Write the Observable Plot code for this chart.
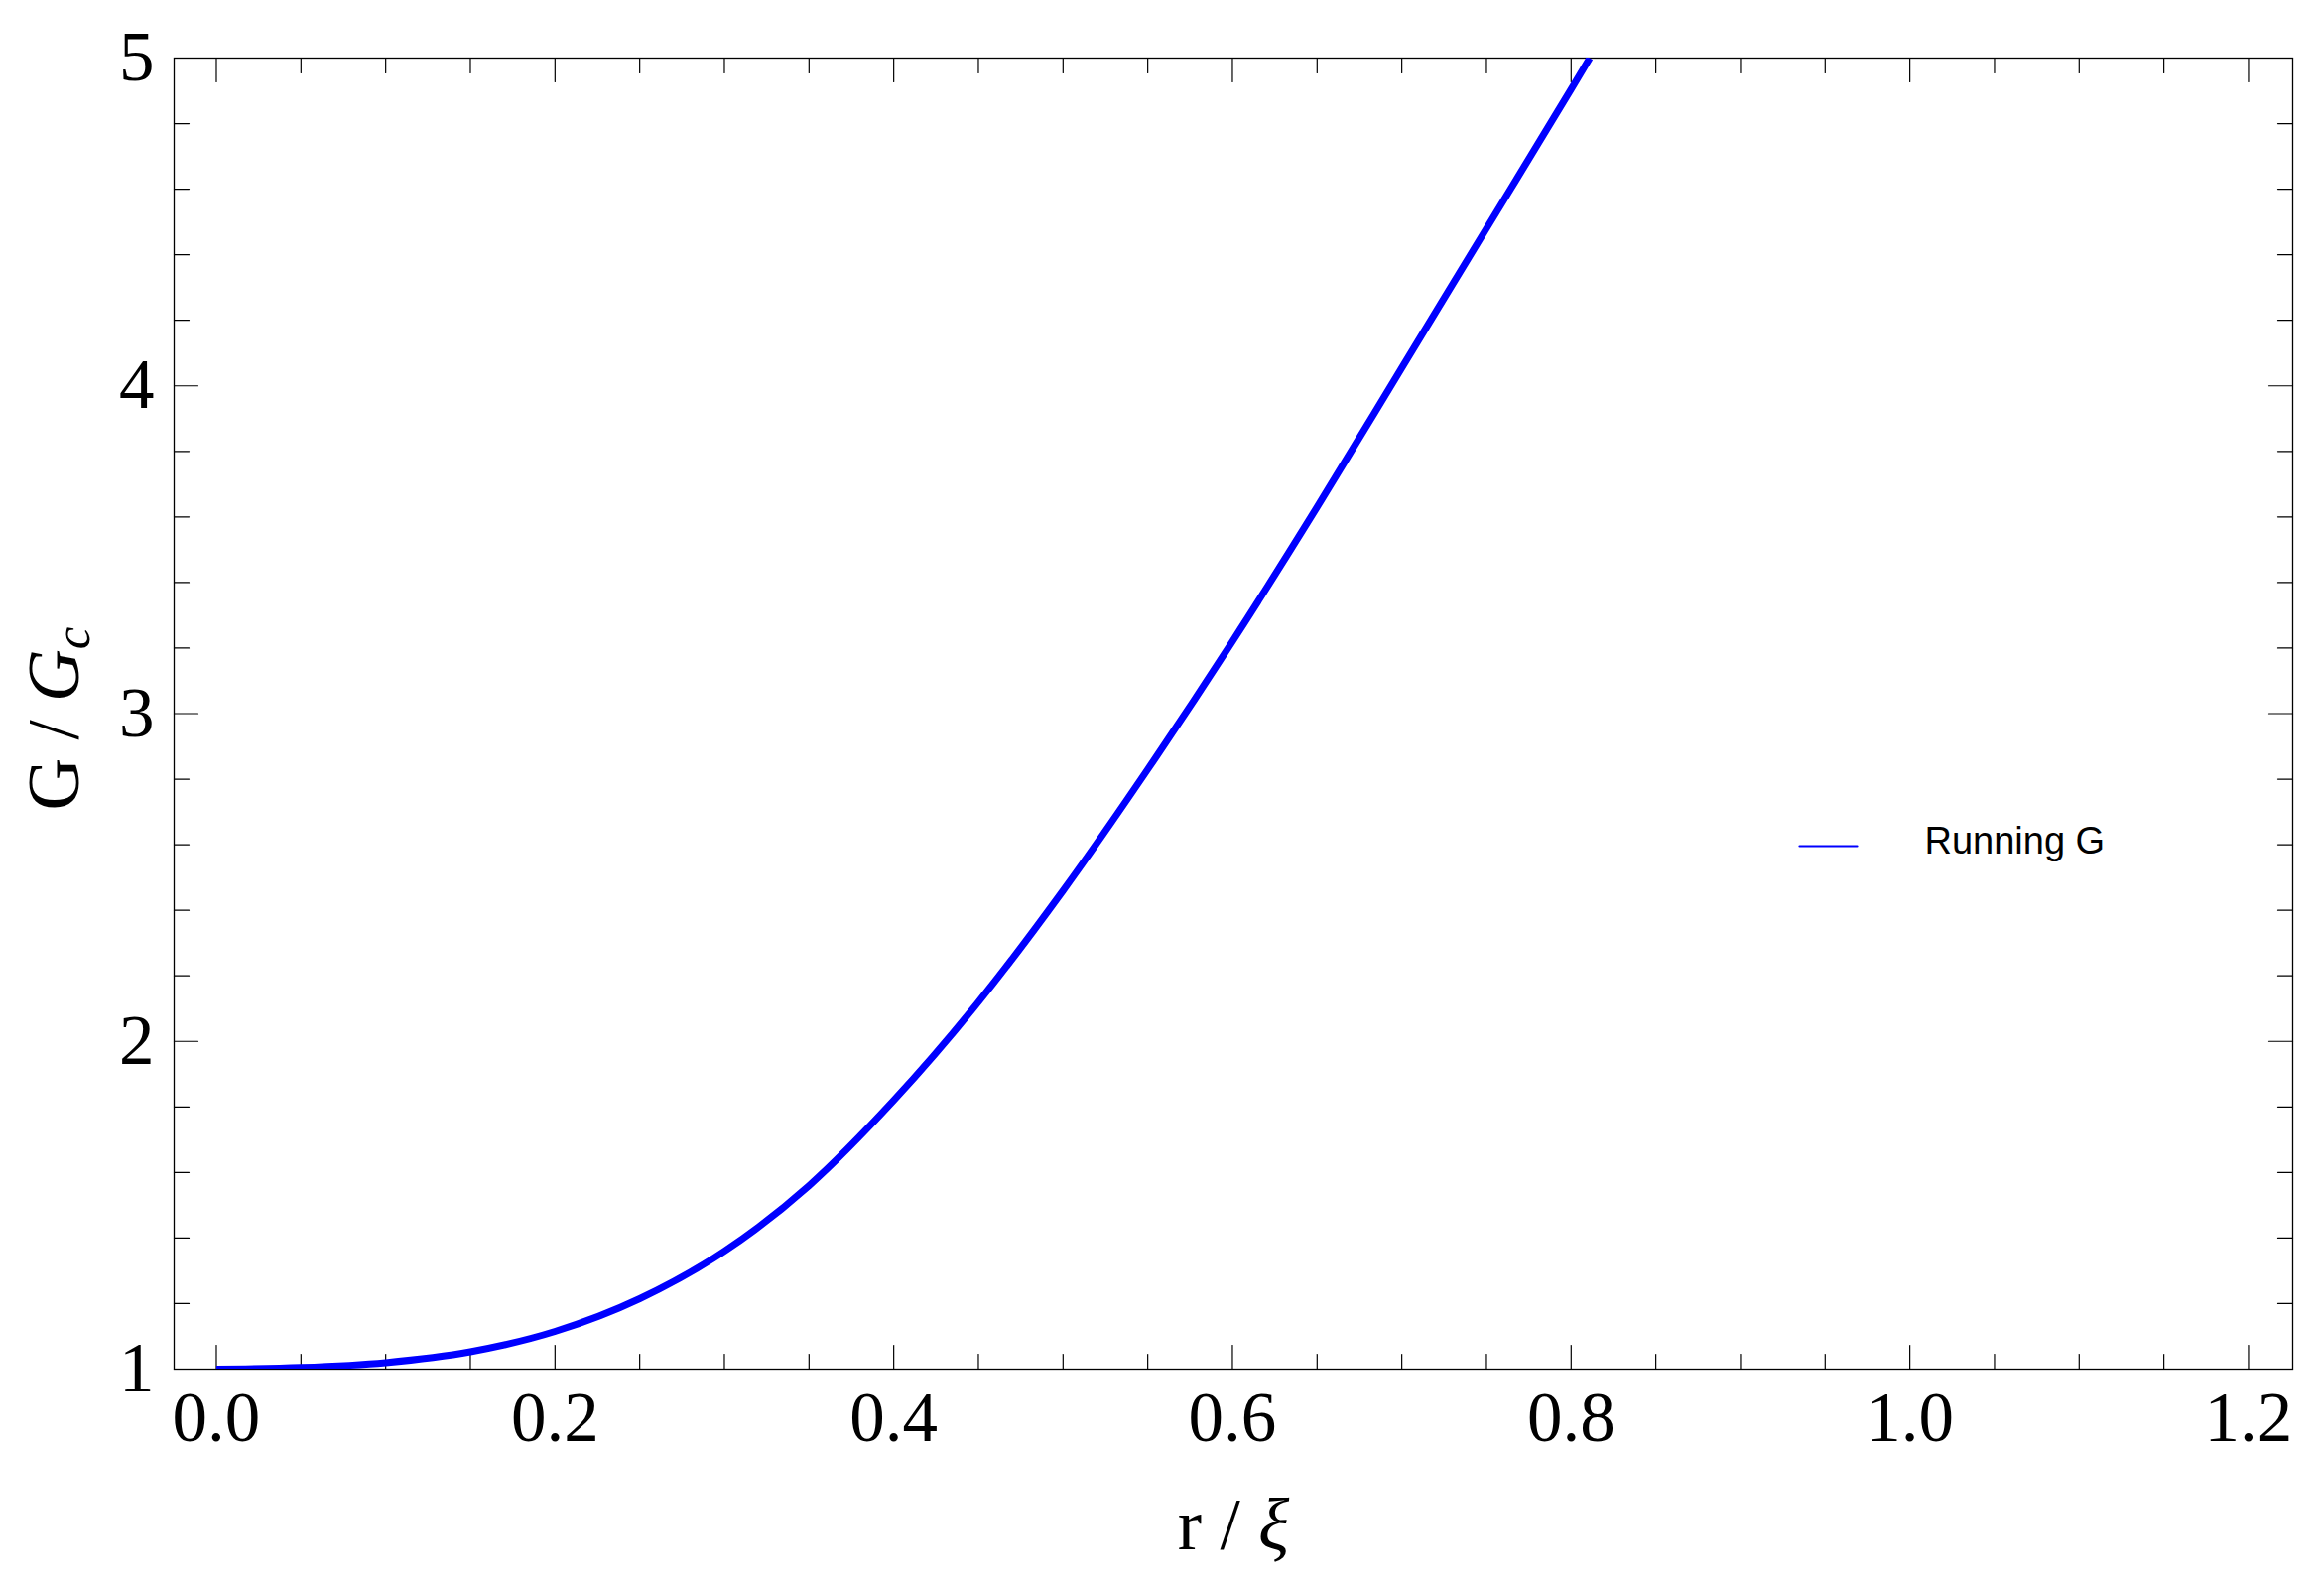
<!DOCTYPE html>
<html>
<head>
<meta charset="utf-8">
<script src="https://cdn.jsdelivr.net/npm/d3@7"></script>
<script src="https://cdn.jsdelivr.net/npm/@observablehq/plot@0.6"></script>
<style>
  html, body { margin: 0; padding: 0; background: #fff; }
  svg { display: block; }
</style>
</head>
<body>
<div id="chart"></div>
<script>
// ---- data ----
const rValues = [0, 0.05, 0.1, 0.15, 0.2, 0.25, 0.3, 0.35, 0.4, 0.45, 0.5, 0.55, 0.6, 0.65, 0.7, 0.75, 0.8, 0.811];
const gValues = [1.0, 1.005, 1.02, 1.053, 1.115, 1.215, 1.36, 1.56, 1.82, 2.12, 2.46, 2.83, 3.22, 3.63, 4.055, 4.48, 4.905, 5.0];
const seriesName = "Running G";
const xMajorTicks = [0, 0.2, 0.4, 0.6, 0.8, 1.0, 1.2];
const xMinorTicks = [0.05, 0.1, 0.15, 0.25, 0.3, 0.35, 0.45, 0.5, 0.55, 0.65, 0.7, 0.75, 0.85, 0.9, 0.95, 1.05, 1.1, 1.15];
const yMajorTicks = [1, 2, 3, 4, 5];
const yMinorTicks = [1.2, 1.4, 1.6, 1.8, 2.2, 2.4, 2.6, 2.8, 3.2, 3.4, 3.6, 3.8, 4.2, 4.4, 4.6, 4.8];
const xDomain = [-0.0249, 1.2261];
const yDomain = [1, 5];
const xLabel = "r / ξ";
const yLabel = "G / Gc";

const data = rValues.map((r, i) => ({r, g: gValues[i], series: seriesName}));

const tickShape = {draw(ctx, l) { ctx.moveTo(0, 0); ctx.lineTo(0, -l); }};
const hShape = {draw(ctx, l) { ctx.moveTo(0, 0); ctx.lineTo(l, 0); }};

function ticksX(values, len, side) {
  return Plot.vectorX(values, {x: d => d, frameAnchor: side, length: len, rotate: side === "bottom" ? 0 : 180,
    anchor: "start", shape: tickShape, stroke: "black", strokeWidth: 1.2});
}
function ticksY(values, len, side) {
  return Plot.vectorY(values, {y: d => d, frameAnchor: side, length: len, rotate: side === "left" ? 90 : -90,
    anchor: "start", shape: tickShape, stroke: "black", strokeWidth: 1.2});
}

const plot = Plot.plot({
  width: 2342,
  height: 1600,
  marginLeft: 175,
  marginRight: 32,
  marginTop: 58,
  marginBottom: 221,
  style: {fontFamily: "'Liberation Serif', 'Times New Roman', serif", fontSize: "71px", color: "black", background: "white", overflow: "visible"},
  x: {domain: xDomain},
  y: {domain: yDomain},
  marks: [
    Plot.frame({stroke: "black", strokeWidth: 1.3}),
    ticksX(xMajorTicks, 24, "bottom"),
    ticksX(xMinorTicks, 15, "bottom"),
    ticksX(xMajorTicks, 24, "top"),
    ticksX(xMinorTicks, 15, "top"),
    ticksY(yMajorTicks, 24, "left"),
    ticksY(yMinorTicks, 15, "left"),
    ticksY(yMajorTicks, 24, "right"),
    ticksY(yMinorTicks, 15, "right"),
    Plot.axisX(xMajorTicks, {anchor: "bottom", tickSize: 0, tickPadding: 22, tickFormat: d3.format(".1f"), label: null}),
    Plot.axisY(yMajorTicks, {anchor: "left", tickSize: 0, tickPadding: 20, tickFormat: d3.format("d"), label: null}),
    Plot.line(data, {x: "r", y: "g", stroke: "#0000ff", strokeWidth: 7, curve: "monotone-x", strokeLinecap: "butt", clip: true}),
    Plot.text([xLabel], {text: d => d, frameAnchor: "bottom", dy: 181, textAnchor: "middle", lineAnchor: "bottom", fontSize: 73}),
    Plot.text([yLabel], {text: d => d, frameAnchor: "left", dx: -97, dy: 5, rotate: -90, textAnchor: "middle", lineAnchor: "bottom", fontSize: 73}),
    Plot.vector([seriesName], {frameAnchor: "top-left", dx: 1638, dy: 794, length: 58, anchor: "start", shape: hShape, stroke: "#0000ff", strokeWidth: 2.2}),
    Plot.text([seriesName], {text: d => d, frameAnchor: "top-left", dx: 1764, dy: 801, textAnchor: "start", lineAnchor: "bottom",
      fontFamily: "'Liberation Sans', Arial, sans-serif", fontSize: 38})
  ]
});

document.getElementById("chart").appendChild(plot);

// rich text for the axis labels (italic ξ, italic G with subscript c)
d3.select(plot).selectAll("text").each(function () {
  const t = d3.select(this);
  if (this.textContent === xLabel) {
    t.text(null);
    t.append("tspan").text("r / ");
    t.append("tspan").attr("font-style", "italic").text("ξ");
  } else if (this.textContent === yLabel) {
    t.text(null);
    t.append("tspan").text("G / ");
    t.append("tspan").attr("font-style", "italic").text("G");
    t.append("tspan").attr("font-style", "italic").attr("font-size", "0.7em").attr("dy", "0.22em").text("c");
  }
});
</script>
</body>
</html>
